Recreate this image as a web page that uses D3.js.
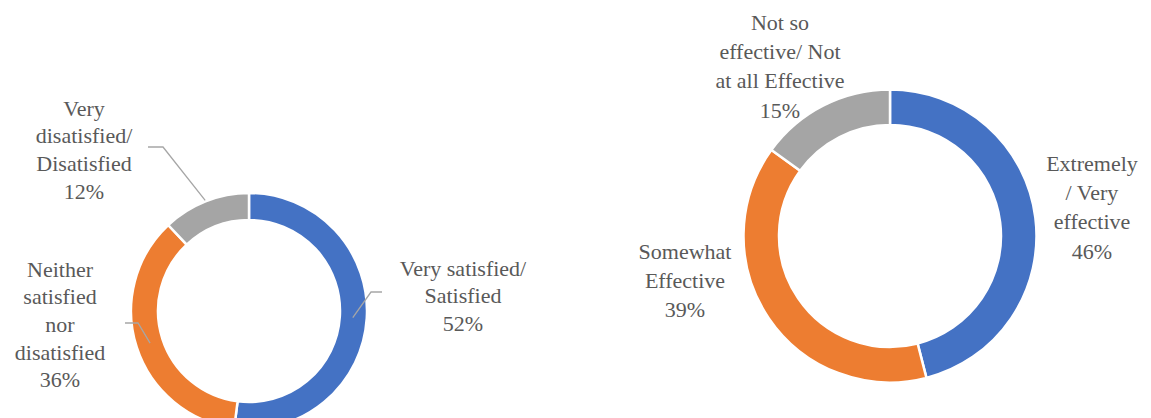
<!DOCTYPE html>
<html>
<head>
<meta charset="utf-8">
<script src="https://cdn.jsdelivr.net/npm/d3@7"></script>
<style>
  @font-face { font-family: "RefSerif"; src: local("Liberation Serif"), local("LiberationSerif"), local("LiberationSerif-Regular"); }
  html, body { margin: 0; padding: 0; background: #ffffff; }
  svg { display: block; }
</style>
</head>
<body>
<svg id="chart" width="1151" height="418" font-family="Liberation Serif, serif"></svg>
<script>
// ---------- data ----------
const satisfactionCategories = ["Very satisfied/ Satisfied", "Neither satisfied nor disatisfied", "Very disatisfied/ Disatisfied"];
const satisfactionValues = [52, 36, 12];
const satisfactionLabelLines = [
  ["Very satisfied/", "Satisfied", "52%"],
  ["Neither", "satisfied", "nor", "disatisfied", "36%"],
  ["Very", "disatisfied/", "Disatisfied", "12%"]
];

const effectivenessCategories = ["Extremely / Very effective", "Somewhat Effective", "Not so effective/ Not at all Effective"];
const effectivenessValues = [46, 39, 15];
const effectivenessLabelLines = [
  ["Extremely", "/ Very", "effective", "46%"],
  ["Somewhat", "Effective", "39%"],
  ["Not so", "effective/ Not", "at all Effective", "15%"]
];

const sliceColors = ["#4472C4", "#ED7D31", "#A5A5A5"];

// ---------- layout ----------
const layouts = [
  {
    cx: 249, cy: 311, outer: 118, inner: 91, lineH: 27.6,
    labels: [ {x: 463, y: 268}, {x: 60, y: 269}, {x: 84, y: 108} ],
    leaders: [
      {r: 104, elbow: [371, 292], end: [382, 292]},
      {r: 104, elbow: [138, 323], end: [125, 323]},
      {r: 119, elbow: [163, 147], end: [148, 147]}
    ]
  },
  {
    cx: 890, cy: 236, outer: 146.5, inner: 111, lineH: 29.3,
    labels: [ {x: 1092, y: 163}, {x: 685, y: 251}, {x: 780, y: 22} ],
    leaders: null
  }
];

const charts = [
  {values: satisfactionValues, cats: satisfactionCategories, lines: satisfactionLabelLines},
  {values: effectivenessValues, cats: effectivenessCategories, lines: effectivenessLabelLines}
];

const svg = d3.select("#chart");
const color = d3.scaleOrdinal().domain([0, 1, 2]).range(sliceColors);
const pie = d3.pie().sort(null).value(d => d).startAngle(0).endAngle(2 * Math.PI);

charts.forEach((c, ci) => {
  const L = layouts[ci];
  const g = svg.append("g").attr("transform", `translate(${L.cx},${L.cy})`);
  const arc = d3.arc().innerRadius(L.inner).outerRadius(L.outer);
  const arcs = pie(c.values);

  g.selectAll("path.slice")
    .data(arcs)
    .join("path")
    .attr("class", "slice")
    .attr("d", arc)
    .attr("fill", (d, i) => color(i))
    .attr("stroke", "#ffffff")
    .attr("stroke-width", 2.5);

  if (L.leaders) {
    arcs.forEach((a, i) => {
      const ld = L.leaders[i];
      const mid = (a.startAngle + a.endAngle) / 2;
      const sx = L.cx + ld.r * Math.sin(mid);
      const sy = L.cy - ld.r * Math.cos(mid);
      svg.append("polyline")
        .attr("points", [[sx, sy], ld.elbow, ld.end].map(p => p.join(",")).join(" "))
        .attr("fill", "none")
        .attr("stroke", "#A6A6A6")
        .attr("stroke-width", 1.3);
    });
  }

  c.lines.forEach((lines, i) => {
    const pos = L.labels[i];
    lines.forEach((ln, k) => {
      svg.append("text")
        .attr("x", pos.x)
        .attr("y", pos.y + k * L.lineH + 7.7)
        .attr("text-anchor", "middle")
        .style("font-family", '"Liberation Serif", RefSerif, serif')
        .style("font-size", "22px")
        .style("fill", "#595959")
        .text(ln);
    });
  });
});
</script>
</body>
</html>
